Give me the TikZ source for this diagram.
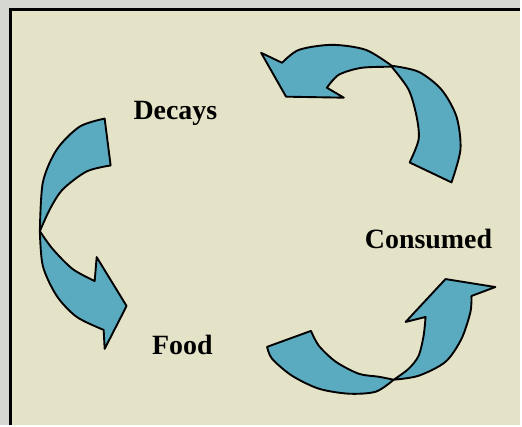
\documentclass[tikz,border=0pt]{standalone}
\usepackage{fontspec}
\setmainfont{Liberation Serif}
\usepackage{tikz}
\definecolor{paper}{RGB}{229,227,199}
\definecolor{margin}{RGB}{214,215,210}
\definecolor{ribbonblue}{RGB}{90,170,192}

\begin{document}
\begin{tikzpicture}[x=1pt,y=-1pt,
    ribbon/.style={fill=ribbonblue, draw=black, line width=1.9pt, line join=round},
    lbl/.style={font=\fontsize{28}{30}\selectfont\bfseries, anchor=base, inner sep=0pt}]
    % page and box
    \fill[margin] (0,0) rectangle (522,426);
    \fill[paper] (10,10) rectangle (522,426);
    \draw[line width=3.5pt] (10.5,426) -- (10.5,9.5) -- (522,9.5);
    % Decays -> Food
    \filldraw[ribbon] (105,119)
        -- plot[smooth] coordinates {(105,119) (80,127) (57,150) (43,183) (40,232)}
        -- plot[smooth] coordinates {(40,232) (43,267) (57,297) (77,318) (104,331)}
        -- (105,350) -- (127,307) -- (97,258) -- (95,282)
        -- plot[smooth] coordinates {(95,282) (73,270) (53,250) (40,232)}
        -- plot[smooth] coordinates {(40,232) (50,210) (63,190) (87,172) (111,166)}
        -- cycle;
    % Consumed -> Decays
    \filldraw[ribbon] (411,163)
        -- plot[smooth] coordinates {(411,163) (420,140) (418,117) (410,90) (393,67)}
        -- plot[smooth] coordinates {(393,67) (363,68) (340,75) (328,88)}
        -- (345,98) -- (287,97) -- (262,53) -- (283,63)
        -- plot[smooth] coordinates {(283,63) (300,50) (333,45) (367,50) (393,66)}
        -- plot[smooth] coordinates {(393,66) (420,72) (443,90) (458,117) (462,150) (453,183)}
        -- cycle;
    % Food -> Consumed
    \filldraw[ribbon] (268,348)
        -- plot[smooth] coordinates {(268,348) (273,360) (293,377) (320,390) (350,395) (377,393) (395,381)}
        -- plot[smooth] coordinates {(395,381) (420,377) (447,363) (463,340) (472,313) (473,297)}
        -- (497,288) -- (447,280) -- (407,323) -- (427,318)
        -- plot[smooth] coordinates {(427,318) (425,337) (420,357) (410,370) (395,381)}
        -- plot[smooth] coordinates {(395,381) (380,378) (360,375) (337,363) (320,347) (312,332)}
        -- cycle;
    \node[lbl] (decays) at (176,120) {Decays};
    \node[lbl] (consumed) at (430,249) {Consumed};
    \node[lbl] (food) at (183,356) {Food};
\end{tikzpicture}
\end{document}
